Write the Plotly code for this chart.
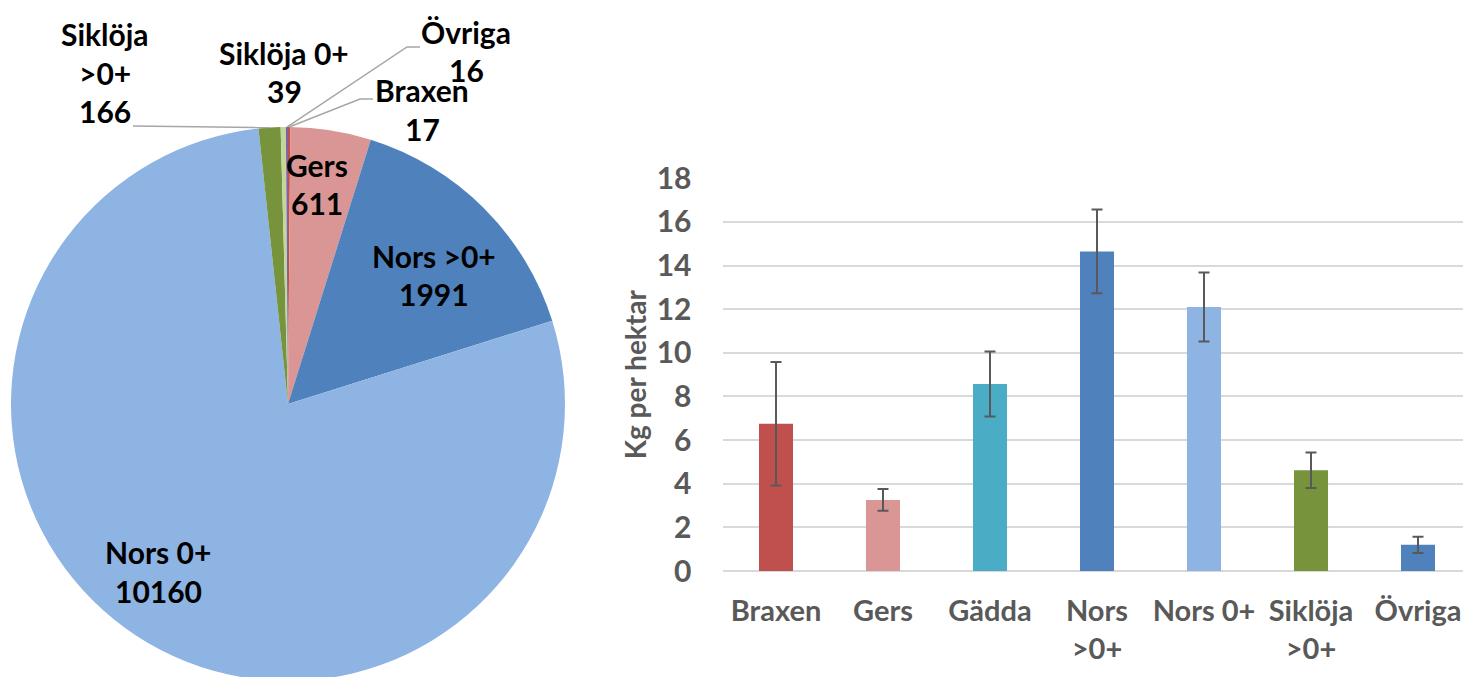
import math
import plotly.graph_objects as go

# ---------------- data ----------------
pie_labels = ["Braxen", "Gers", "Nors >0+", "Nors 0+", "Siklöja >0+", "Siklöja 0+", "Övriga"]
pie_values = [17, 611, 1991, 10160, 166, 39, 16]
pie_colors = ["#C0504D", "#DA9694", "#4F81BD", "#8DB4E2", "#77933C", "#C3D69B", "#8064A2"]

bar_categories = ["Braxen", "Gers", "Gädda", "Nors >0+", "Nors 0+", "Siklöja >0+", "Övriga"]
bar_values = [6.75, 3.26, 8.57, 14.65, 12.1, 4.62, 1.2]
bar_errors = [2.83, 0.5, 1.49, 1.92, 1.58, 0.81, 0.37]
bar_colors = ["#C0504D", "#DA9694", "#4BACC6", "#4F81BD", "#8DB4E2", "#77933C", "#4F81BD"]
bar_ticklabels = ["Braxen", "Gers", "Gädda", "Nors<br>>0+", "Nors 0+", "Siklöja<br>>0+", "Övriga"]

y_ticks = [0, 2, 4, 6, 8, 10, 12, 14, 16, 18]

# ---------------- layout constants ----------------
# The figure is slightly larger than the 1463x677 window; the page hides the
# overflow so the pie and the bar plot are cut at the window edge, as in the reference.
W, H = 1472, 685
FONT = "Lato"
GREY = "#595959"
FS = 30

# pie geometry (page pixels)
CX, CY, R = 288, 404, 277

def px2paper(x, y):
    return x / W, 1 - y / H

# label positions (center of first text line, page px) and leader-line anchors
label_pos = {
    "Braxen": (422, 90),
    "Gers": (317, 165),
    "Nors >0+": (434, 256),
    "Nors 0+": (158, 552),
    "Siklöja >0+": (105, 34),
    "Siklöja 0+": (284, 53),
    "Övriga": (466, 32),
}
label_name_lines = {"Siklöja >0+": ["Siklöja", ">0+"]}
leader_start = {
    "Siklöja >0+": [(133, 126)],
    "Övriga": [(420, 47), (407, 47)],
    "Braxen": [(373, 99), (360, 99)],
}
LINE_SP = 38.5

fig = go.Figure()

x0p, y1p = px2paper(CX - R, CY - R)
x1p, y0p = px2paper(CX + R, CY + R)
fig.add_trace(go.Pie(
    labels=pie_labels, values=pie_values, sort=False, direction="clockwise",
    rotation=0, textinfo="none", hoverinfo="label+value",
    marker=dict(colors=pie_colors, line=dict(width=0)),
    domain=dict(x=[x0p, x1p], y=[max(0, y0p), y1p]),
    showlegend=False, automargin=False,
))

annotations = []
shapes = []
total = sum(pie_values)
cum = 0
for name, val in zip(pie_labels, pie_values):
    mid = (cum + val / 2) / total * 2 * math.pi
    cum += val
    lines = label_name_lines.get(name, [name]) + [str(val)]
    lx, ly = label_pos[name]
    for i, t in enumerate(lines):
        ax, ay = px2paper(lx, ly + i * LINE_SP)
        annotations.append(dict(
            x=ax, y=ay, xref="paper", yref="paper", text=t, showarrow=False,
            xanchor="center", yanchor="middle",
            font=dict(family=FONT, size=FS, color="black", weight="bold"),
        ))
    if name in leader_start:
        ex = CX + R * math.sin(mid)
        ey = CY - R * math.cos(mid)
        pts = leader_start[name] + [(ex, ey)]
        path = ""
        for j, (px, py) in enumerate(pts):
            qx, qy = px2paper(px, py)
            path += ("M" if j == 0 else "L") + f"{qx},{qy} "
        shapes.append(dict(type="path", path=path, xref="paper", yref="paper",
                           line=dict(color="#A6A6A6", width=1.5)))

# ---------------- bar chart ----------------
fig.add_trace(go.Bar(
    x=list(range(len(bar_categories))), y=bar_values,
    marker=dict(color=bar_colors, line=dict(width=0)),
    width=0.318,
    error_y=dict(type="data", array=bar_errors, visible=True,
                 color=GREY, thickness=2, width=5.5),
    xaxis="x", yaxis="y", showlegend=False,
    hovertext=bar_categories,
))

plot_left, plot_right = 722.5, 1471.5   # page px
y_top, y_bot = 178.3, 571               # page px
xd0, xd1 = plot_left / W, plot_right / W
yd0 = 1 - y_bot / H
yd1 = 1 - y_top / H

fig.update_layout(
    template="none",
    width=W, height=H,
    margin=dict(l=0, r=0, t=0, b=0, pad=0, autoexpand=False),
    paper_bgcolor="white", plot_bgcolor="white",
    font=dict(family=FONT, color=GREY),
    xaxis=dict(
        domain=[xd0, xd1],
        range=[-0.5, len(bar_categories) - 0.5],
        tickmode="array", tickvals=list(range(len(bar_categories))),
        ticktext=bar_ticklabels,
        tickfont=dict(family=FONT, size=29, color=GREY, weight="bold"),
        showgrid=False, zeroline=False, showline=False, ticks="",
        ticklabelstandoff=20, ticklabeloverflow="allow",
        anchor="y", automargin=False,
    ),
    yaxis=dict(
        domain=[yd0, yd1],
        range=[0, 18],
        tickmode="array", tickvals=y_ticks,
        tickfont=dict(family=FONT, size=FS, color=GREY, weight="bold"),
        showgrid=True, gridcolor="#D9D9D9", gridwidth=2,
        zeroline=True, zerolinecolor="#D9D9D9", zerolinewidth=2,
        showline=False, ticks="", ticklabelstandoff=30,
        title=dict(text="Kg per hektar", standoff=1,
                   font=dict(family=FONT, size=28, color=GREY, weight="bold")),
        anchor="x", automargin=False,
    ),
    annotations=annotations,
    shapes=shapes,
)

fig.write_html(
    "out.html",
    config={"displayModeBar": False},
    post_script="document.documentElement.style.overflow='hidden';"
                "document.body.style.margin='0';document.body.style.overflow='hidden';",
)
